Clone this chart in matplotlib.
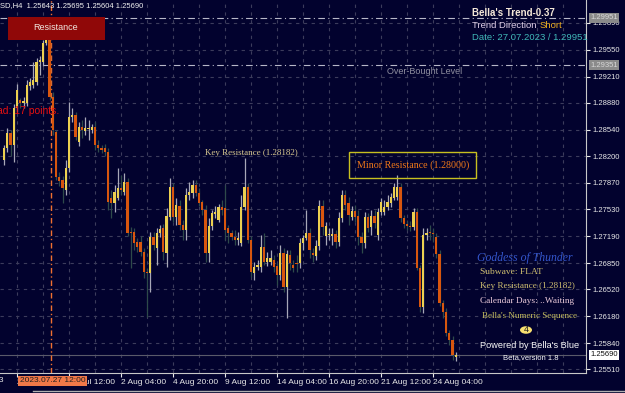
import numpy as np
import matplotlib.pyplot as plt
from matplotlib.patches import Rectangle, Circle

# GBPUSD H4 candles (oldest first)
opens = [1.2816, 1.2831, 1.2850, 1.2834, 1.2881, 1.2891, 1.2888, 1.2888, 1.2909, 1.2910,
         1.2914, 1.2939, 1.2939, 1.2963, 1.2977, 1.2895, 1.2851, 1.2794, 1.2790, 1.2778,
         1.2805, 1.2870, 1.2872, 1.2838, 1.2857, 1.2852, 1.2855, 1.2853, 1.2857, 1.2834,
         1.2831, 1.2831, 1.2826, 1.2767, 1.2761, 1.2767, 1.2780, 1.2775, 1.2788, 1.2724,
         1.2724, 1.2712, 1.2712, 1.2699, 1.2674, 1.2673, 1.2718, 1.2704, 1.2723, 1.2730,
         1.2698, 1.2743, 1.2781, 1.2743, 1.2757, 1.2733, 1.2727, 1.2771, 1.2774, 1.2784,
         1.2774, 1.2762, 1.2752, 1.2698, 1.2732, 1.2747, 1.2740, 1.2756, 1.2755, 1.2730,
         1.2723, 1.2718, 1.2714, 1.2711, 1.2756, 1.2781, 1.2714, 1.2673, 1.2680, 1.2680,
         1.2706, 1.2687, 1.2687, 1.2689, 1.2681, 1.2670, 1.2698, 1.2655, 1.2695, 1.2683,
         1.2685, 1.2685, 1.2711, 1.2717, 1.2723, 1.2698, 1.2694, 1.2707, 1.2757, 1.2719,
         1.2721, 1.2719, 1.2722, 1.2712, 1.2742, 1.2771, 1.2761, 1.2743, 1.2751, 1.2745,
         1.2718, 1.2711, 1.2743, 1.2731, 1.2745, 1.2721, 1.2750, 1.2750, 1.2756, 1.2761,
         1.2767, 1.2769, 1.2781, 1.2742, 1.2735, 1.2732, 1.2731, 1.2750, 1.2679, 1.2630,
         1.2721, 1.2724, 1.2723, 1.2718, 1.2697, 1.2635, 1.2623, 1.2597, 1.2588, 1.2566]
highs = [1.2834, 1.2856, 1.2853, 1.2886, 1.2912, 1.2894, 1.2895, 1.2917, 1.2919, 1.2939,
         1.2944, 1.2947, 1.2967, 1.2993, 1.2995, 1.2901, 1.2853, 1.2800, 1.2795, 1.2816,
         1.2889, 1.2881, 1.2876, 1.2863, 1.2866, 1.2870, 1.2866, 1.2861, 1.2863, 1.2841,
         1.2834, 1.2836, 1.2831, 1.2778, 1.2784, 1.2805, 1.2797, 1.2799, 1.2793, 1.2731,
         1.2730, 1.2717, 1.2719, 1.2704, 1.2679, 1.2724, 1.2724, 1.2730, 1.2733, 1.2735,
         1.2755, 1.2793, 1.2786, 1.2767, 1.2765, 1.2740, 1.2780, 1.2788, 1.2790, 1.2790,
         1.2780, 1.2765, 1.2759, 1.2742, 1.2752, 1.2757, 1.2760, 1.2765, 1.2784, 1.2733,
         1.2727, 1.2727, 1.2724, 1.2771, 1.2818, 1.2786, 1.2719, 1.2687, 1.2689, 1.2721,
         1.2723, 1.2699, 1.2702, 1.2695, 1.2685, 1.2708, 1.2704, 1.2702, 1.2702, 1.2689,
         1.2695, 1.2717, 1.2721, 1.2752, 1.2730, 1.2704, 1.2714, 1.2765, 1.2765, 1.2737,
         1.2730, 1.2730, 1.2727, 1.2750, 1.2778, 1.2778, 1.2769, 1.2757, 1.2759, 1.2752,
         1.2724, 1.2750, 1.2748, 1.2752, 1.2752, 1.2755, 1.2767, 1.2765, 1.2771, 1.2774,
         1.2786, 1.2797, 1.2786, 1.2746, 1.2740, 1.2738, 1.2755, 1.2755, 1.2683, 1.2730,
         1.2730, 1.2733, 1.2730, 1.2723, 1.2702, 1.2639, 1.2628, 1.2601, 1.2593, 1.2573]
lows = [1.2809, 1.2826, 1.2821, 1.2813, 1.2876, 1.2881, 1.2881, 1.2884, 1.2904, 1.2907,
        1.2910, 1.2923, 1.2934, 1.2961, 1.2891, 1.2847, 1.2790, 1.2783, 1.2761, 1.2771,
        1.2800, 1.2863, 1.2841, 1.2833, 1.2843, 1.2847, 1.2841, 1.2850, 1.2828, 1.2826,
        1.2824, 1.2821, 1.2752, 1.2742, 1.2750, 1.2765, 1.2771, 1.2771, 1.2719, 1.2679,
        1.2702, 1.2699, 1.2694, 1.2666, 1.2617, 1.2649, 1.2702, 1.2683, 1.2718, 1.2689,
        1.2680, 1.2740, 1.2737, 1.2733, 1.2727, 1.2714, 1.2714, 1.2765, 1.2767, 1.2770,
        1.2757, 1.2746, 1.2687, 1.2687, 1.2727, 1.2742, 1.2737, 1.2746, 1.2714, 1.2711,
        1.2714, 1.2708, 1.2708, 1.2707, 1.2752, 1.2711, 1.2668, 1.2664, 1.2676, 1.2674,
        1.2683, 1.2681, 1.2683, 1.2674, 1.2657, 1.2664, 1.2649, 1.2616, 1.2676, 1.2674,
        1.2674, 1.2679, 1.2702, 1.2714, 1.2692, 1.2687, 1.2689, 1.2702, 1.2721, 1.2708,
        1.2714, 1.2708, 1.2704, 1.2707, 1.2737, 1.2752, 1.2733, 1.2740, 1.2737, 1.2708,
        1.2698, 1.2704, 1.2724, 1.2721, 1.2730, 1.2714, 1.2746, 1.2746, 1.2752, 1.2756,
        1.2765, 1.2765, 1.2737, 1.2730, 1.2727, 1.2726, 1.2727, 1.2676, 1.2623, 1.2622,
        1.2714, 1.2714, 1.2712, 1.2692, 1.2631, 1.2616, 1.2593, 1.2582, 1.2563, 1.2561]
closes = [1.2831, 1.2850, 1.2834, 1.2881, 1.2904, 1.2888, 1.2890, 1.2910, 1.2914, 1.2917,
          1.2939, 1.2942, 1.2963, 1.2980, 1.2895, 1.2853, 1.2794, 1.2789, 1.2780, 1.2805,
          1.2870, 1.2872, 1.2845, 1.2857, 1.2853, 1.2856, 1.2856, 1.2857, 1.2834, 1.2831,
          1.2828, 1.2826, 1.2762, 1.2761, 1.2775, 1.2780, 1.2778, 1.2788, 1.2723, 1.2723,
          1.2711, 1.2706, 1.2699, 1.2674, 1.2673, 1.2718, 1.2708, 1.2723, 1.2728, 1.2699,
          1.2745, 1.2781, 1.2743, 1.2759, 1.2733, 1.2727, 1.2771, 1.2775, 1.2784, 1.2774,
          1.2761, 1.2752, 1.2698, 1.2732, 1.2748, 1.2750, 1.2756, 1.2752, 1.2727, 1.2723,
          1.2718, 1.2714, 1.2717, 1.2756, 1.2781, 1.2714, 1.2674, 1.2680, 1.2683, 1.2706,
          1.2687, 1.2692, 1.2692, 1.2680, 1.2670, 1.2698, 1.2655, 1.2697, 1.2685, 1.2679,
          1.2684, 1.2711, 1.2717, 1.2723, 1.2702, 1.2695, 1.2707, 1.2757, 1.2731, 1.2732,
          1.2722, 1.2722, 1.2712, 1.2742, 1.2771, 1.2759, 1.2746, 1.2751, 1.2743, 1.2718,
          1.2711, 1.2743, 1.2730, 1.2745, 1.2736, 1.2750, 1.2762, 1.2756, 1.2762, 1.2769,
          1.2781, 1.2781, 1.2742, 1.2735, 1.2732, 1.2731, 1.2750, 1.2679, 1.2630, 1.2721,
          1.2723, 1.2723, 1.2722, 1.2697, 1.2635, 1.2623, 1.2597, 1.2588, 1.2569, 1.2569]

price_ticks = [1.29890, 1.29550, 1.29210, 1.28880, 1.28540, 1.28200, 1.27870,
               1.27530, 1.27190, 1.26850, 1.26520, 1.26180, 1.25840, 1.25510]
time_labels = ['25 Jul 20:00', '28 Jul 12:00', '2 Aug 04:00', '4 Aug 20:00',
               '9 Aug 12:00', '14 Aug 04:00', '16 Aug 20:00', '21 Aug 12:00', '24 Aug 04:00']
first_label = '21 Jul 2023'
high_level = 1.29951
overbought = 1.29351
last_price = 1.25690
cross_bar = 14

W, H = 625, 393
bg = '#02022e'
axfont = 'Liberation Sans'
fig = plt.figure(figsize=(W / 100, H / 100), dpi=100, facecolor=bg)
ax = fig.add_axes([0, 20 / H, 586 / W, 373 / H], facecolor=bg)

def fx(px):
    return px / W

def fy(py):
    return 1 - py / H

n = len(closes)
idx = np.arange(n)
o = np.array(opens); c = np.array(closes)
hi = np.array(highs); lo = np.array(lows)
up = c >= o

# grid
for k in range(0, 23):
    ax.axvline(4 + 8 * k, color='#3c3c5c', lw=0.8, ls=(0, (3, 4)), zorder=0)
for p in price_ticks:
    ax.axhline(p, color='#3c3c5c', lw=0.8, ls=(0, (3, 4)), zorder=0)

# level lines
ax.axhline(high_level, color='#b8b8c8', lw=0.8, ls=(0, (6, 3, 1, 3)), zorder=1)
ax.axhline(overbought, color='#b8b8c8', lw=0.8, ls=(0, (6, 3, 1, 3)), zorder=1)
ax.axhline(last_price, color='#5a5a6a', lw=0.8, zorder=1)
ax.axvline(cross_bar + 0.5, color='#f07030', lw=1.0, ls=(0, (4, 2, 1, 2)), zorder=1)

# resistance box (under the candles)
fig.patches.append(Rectangle((fx(8), fy(40)), fx(97), 23 / H, transform=fig.transFigure,
                             facecolor='#900808', edgecolor='none', zorder=0))

# candles
ax.vlines(idx[up], lo[up], hi[up], color='#a8a8b8', lw=0.9, zorder=2)
ax.vlines(idx[~up], lo[~up], hi[~up], color='#2e4a4a', lw=0.9, zorder=2)
body = np.maximum(np.abs(c - o), 0.00008)
ax.bar(idx[up], body[up], bottom=np.minimum(o, c)[up], width=0.75,
       color='#ecd050', edgecolor='none', zorder=3)
ax.bar(idx[~up], body[~up], bottom=np.minimum(o, c)[~up], width=0.75,
       color='#d8560e', edgecolor='none', zorder=3)

# axes
for s in ['left', 'top']:
    ax.spines[s].set_visible(False)
for s in ['right', 'bottom']:
    ax.spines[s].set_color('#c8c8c8')
    ax.spines[s].set_linewidth(0.8)
ax.yaxis.tick_right()
ax.set_yticks(price_ticks)
ax.set_yticklabels(['%.5f' % p for p in price_ticks], family=axfont)
ax.tick_params(axis='y', colors='#e8e8e8', labelsize=5.5, length=3, pad=2, width=0.8)
ax.set_xticks([4 + 16 * k for k in range(0, 9)])
ax.set_xticklabels(time_labels, ha='left', family=axfont)
ax.tick_params(axis='x', colors='#e8e8e8', labelsize=6, length=3, pad=1.5, width=0.8)
ax.set_xlim(-4 / 3.25, 582 / 3.25)
ax.set_ylim(1.30177 - 373 * 0.0001264, 1.30177)
fig.text(fx(3), fy(381), first_label, fontsize=6, family=axfont, color='#e8e8e8',
         ha='right', va='center')

# price-axis markers
for p, fc, tc in [(high_level, '#8a8a8a', '#d8d8d8'), (overbought, '#8a8a8a', '#d8d8d8'),
                  (last_price, '#ffffff', '#101010')]:
    ax.annotate('%.5f' % p, xy=(1, p), xycoords=('axes fraction', 'data'),
                xytext=(3, 0), textcoords='offset points', va='center', ha='left',
                fontsize=5.5, family=axfont, color=tc, annotation_clip=False, zorder=5,
                bbox=dict(boxstyle='square,pad=0.2', fc=fc, ec='none'))

# crosshair date box on time axis
fig.text(fx(20), fy(381), '2023.07.27 12:00', fontsize=6, family=axfont, color='#202020',
         va='center', ha='left', zorder=6,
         bbox=dict(boxstyle='square,pad=0.2', fc='#f07848', ec='none'))

# texts
fig.text(fx(0), fy(6), 'SD,H4  1.25643 1.25695 1.25604 1.25690', fontsize=5.5,
         family=axfont, color='#f0f0f0', va='center', ha='left')
fig.text(fx(56), fy(28), 'Resistance', fontsize=6.5, family=axfont, color='#f0e8e0',
         va='center', ha='center', zorder=4)
fig.text(fx(59), fy(111), 'Spread: 17 points.', fontsize=7.5, family=axfont,
         color='#e81010', va='center', ha='right')
fig.text(fx(472), fy(13), "Bella's Trend-0.37", fontsize=7, family=axfont, color='#f4e8d8',
         fontweight='bold', va='center', ha='left')
t1 = fig.text(fx(472), fy(26), 'Trend Direction', fontsize=6.8, family=axfont,
              color='#e0d0e8', va='center', ha='left')
fig.canvas.draw()
bb = t1.get_window_extent()
fig.text((bb.x1 + 3) / W, fy(26), 'Short', fontsize=6.8, family=axfont, color='#f0b020',
         va='center', ha='left')
fig.text(fx(472), fy(37), 'Date: 27.07.2023 / 1.29951', fontsize=6.8, family=axfont,
         color='#40b8b8', va='center', ha='left')
fig.text(fx(387), fy(71), 'Over-Bought Level', fontsize=6.5, family=axfont, color='#9090a0',
         va='center', ha='left')
fig.text(fx(251), fy(153), 'Key Resistance (1.28182)', fontsize=6.5,
         family='Liberation Serif', color='#d8c890', va='center', ha='center')
fig.patches.append(Rectangle((fx(349), fy(178)), fx(127), 26 / H, transform=fig.transFigure,
                             facecolor='none', edgecolor='#c8c020', lw=1.0, zorder=4))
fig.text(fx(413), fy(165), 'Minor Resistance (1.28000)', fontsize=7.2,
         family='Liberation Serif', color='#f07818', va='center', ha='center')

fig.text(fx(525), fy(258), 'Goddess of Thunder', fontsize=8.5, color='#3456cc',
         family='Liberation Serif', style='italic', va='center', ha='center')
fig.text(fx(480), fy(272), 'Subwave: FLAT', fontsize=6.8, color='#d0c070',
         family='Liberation Serif', va='center', ha='left')
fig.text(fx(480), fy(286), 'Key Resistance (1.28182)', fontsize=6.6, color='#d0c070',
         family='Liberation Serif', va='center', ha='left')
fig.text(fx(480), fy(301), 'Calendar Days: ..Waiting', fontsize=6.7, color='#e8c8d8',
         family='Liberation Serif', va='center', ha='left')
fig.text(fx(482), fy(316), "Bella's Numeric Sequence", fontsize=6.5, color='#c8c060',
         family='Liberation Serif', va='center', ha='left')
fig.patches.append(Circle((fx(526), fy(330)), 6 / W, transform=fig.transFigure,
                          facecolor='#f8e070', edgecolor='none', zorder=4))
fig.text(fx(526), fy(330), '4', fontsize=6.5, family=axfont, color='#202020', va='center',
         ha='center', zorder=5)
fig.text(fx(530), fy(346), "Powered by Bella's Blue", fontsize=6.6, family=axfont,
         color='#f8f8f8', va='center', ha='center')
fig.text(fx(531), fy(358), 'Beta,version 1.8', fontsize=5.5, family=axfont,
         color='#f8f8f8', va='center', ha='center')

# window border at bottom
fig.add_artist(plt.Line2D([fx(33), 1], [fy(391), fy(391)], transform=fig.transFigure,
                          color='#b0b0b0', lw=1))

fig.savefig('out.png', dpi=100, facecolor=bg)
